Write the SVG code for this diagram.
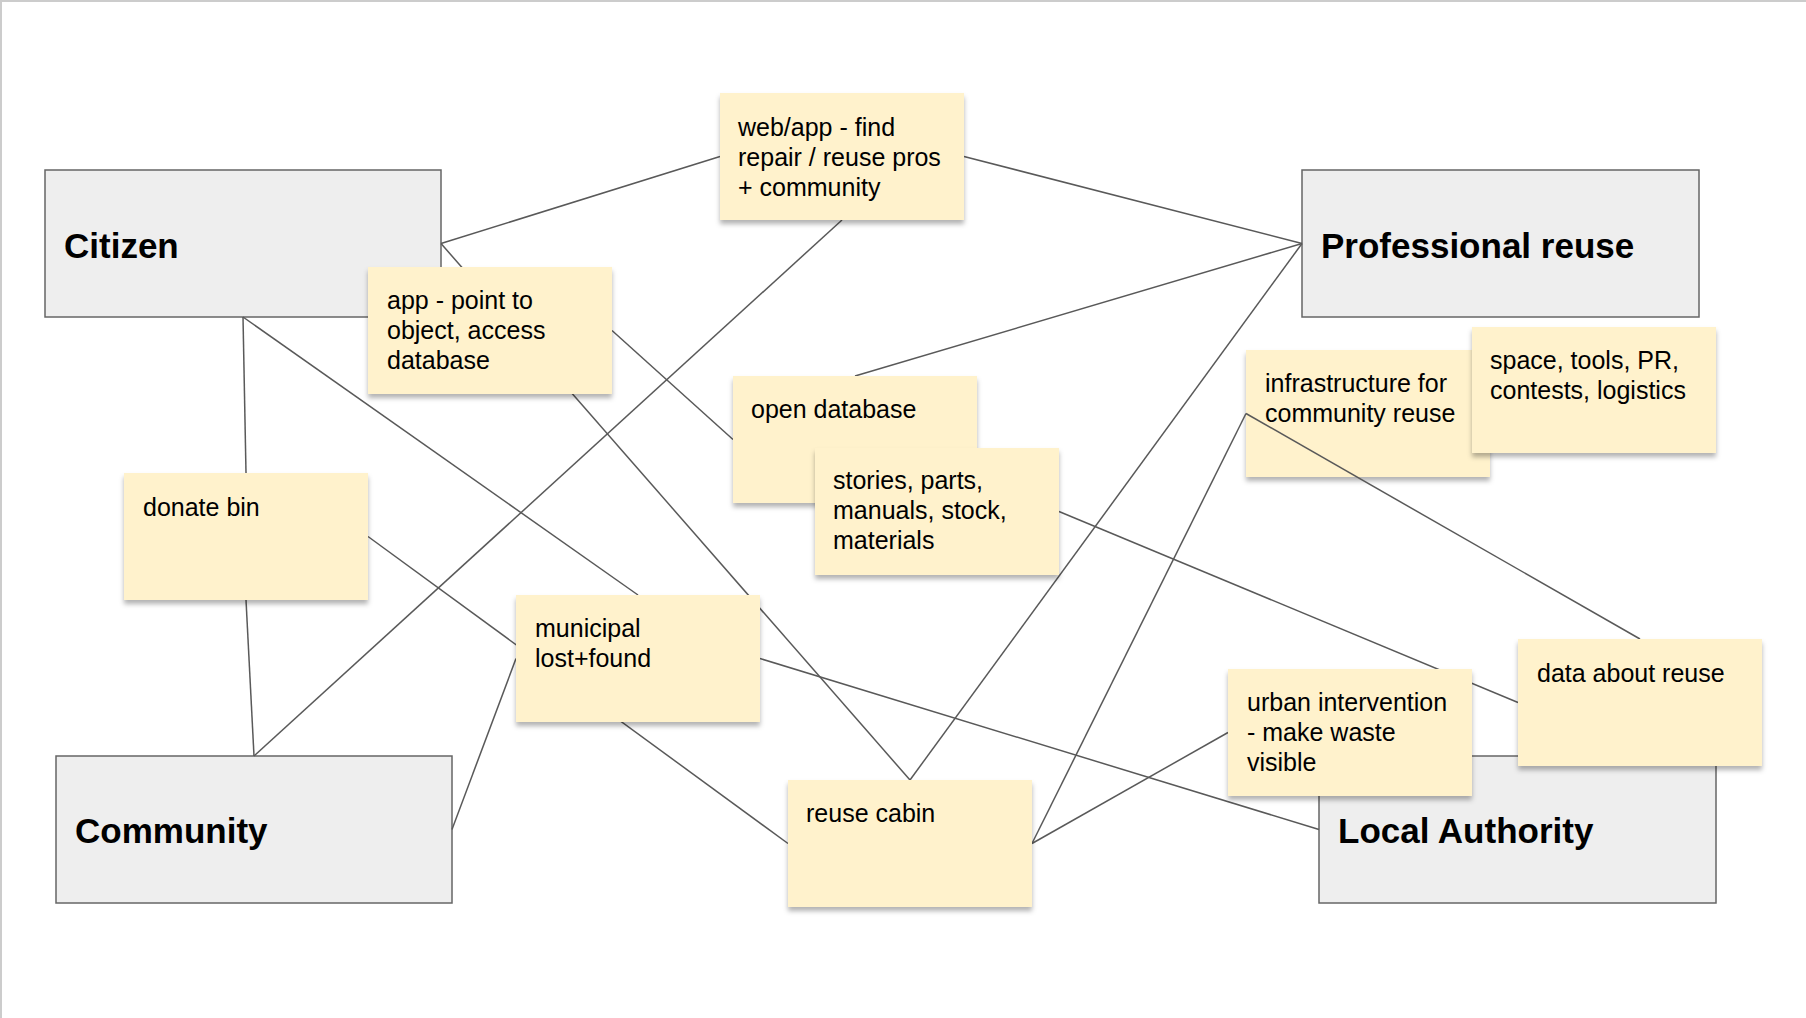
<svg xmlns="http://www.w3.org/2000/svg" width="1806" height="1018" viewBox="0 0 1806 1018">
<defs>
<filter id="shadow" x="-10%" y="-10%" width="125%" height="130%">
<feDropShadow dx="0" dy="4" stdDeviation="2.5" flood-color="#000" flood-opacity="0.3"/>
</filter>
</defs>
<style>
.actor{fill:#eeeeee;stroke:#666666;stroke-width:1.5}
.note{fill:#fff2cc;filter:url(#shadow)}
.title{font-family:"Liberation Sans",Arial,sans-serif;font-weight:bold;font-size:35px;fill:#000}
.txt{font-family:"Liberation Sans",Arial,sans-serif;font-size:25px;fill:#000}
.conn line{stroke:#595959;stroke-width:1.5;fill:none}
</style>
<rect x="0" y="0" width="1806" height="1018" fill="#ffffff"/>
<rect x="0" y="0" width="1806" height="2" fill="#cccccc"/>
<rect x="0" y="0" width="2" height="1018" fill="#cccccc"/>

<g id="citizen"><rect class="actor" x="45" y="170" width="396" height="147"/><text class="title" x="64" y="258">Citizen</text></g>
<g id="professional-reuse"><rect class="actor" x="1302" y="170" width="397" height="147"/><text class="title" x="1321" y="258">Professional reuse</text></g>
<g id="community"><rect class="actor" x="56" y="756" width="396" height="147"/><text class="title" x="75" y="843">Community</text></g>
<g id="local-authority"><rect class="actor" x="1319" y="756" width="397" height="147"/><text class="title" x="1338" y="843">Local Authority</text></g>

<g id="infrastructure"><rect class="note" x="1246" y="350" width="244" height="127"/><text class="txt"><tspan x="1265" y="392">infrastructure for</tspan><tspan x="1265" y="422">community reuse</tspan></text></g>

<g id="connectors" class="conn">
<line x1="441" y1="243.5" x2="720" y2="156.5"/>
<line x1="441" y1="243.5" x2="910" y2="780"/>
<line x1="612" y1="330.5" x2="733" y2="439.5"/>
<line x1="964" y1="156.5" x2="1302" y2="243.5"/>
<line x1="842" y1="220" x2="254" y2="756"/>
<line x1="855" y1="376" x2="1302" y2="243.5"/>
<line x1="1302" y1="243.5" x2="910" y2="780"/>
<line x1="243" y1="317" x2="246" y2="473"/>
<line x1="243" y1="317" x2="638" y2="595"/>
<line x1="246" y1="600" x2="254" y2="756"/>
<line x1="368" y1="536.5" x2="788" y2="843.5"/>
<line x1="516" y1="658.5" x2="452" y2="829.5"/>
<line x1="760" y1="658.5" x2="1319" y2="829.5"/>
<line x1="1032" y1="843.5" x2="1246" y2="413.5"/>
<line x1="1032" y1="843.5" x2="1228" y2="732.5"/>
<line x1="1246" y1="413.5" x2="1640" y2="639"/>
<line x1="1059" y1="511.5" x2="1518" y2="702.5"/>
</g>

<g id="web-app"><rect class="note" x="720" y="93" width="244" height="127"/><text class="txt"><tspan x="738" y="136">web/app - find</tspan><tspan x="738" y="166">repair / reuse pros</tspan><tspan x="738" y="196">+ community</tspan></text></g>
<g id="app-point"><rect class="note" x="368" y="267" width="244" height="127"/><text class="txt"><tspan x="387" y="309">app - point to</tspan><tspan x="387" y="339">object, access</tspan><tspan x="387" y="369">database</tspan></text></g>
<g id="open-database"><rect class="note" x="733" y="376" width="244" height="127"/><text class="txt" x="751" y="418">open database</text></g>
<g id="stories"><rect class="note" x="815" y="448" width="244" height="127"/><text class="txt"><tspan x="833" y="489">stories, parts,</tspan><tspan x="833" y="519">manuals, stock,</tspan><tspan x="833" y="549">materials</tspan></text></g>
<g id="space-tools"><rect class="note" x="1472" y="327" width="244" height="126"/><text class="txt"><tspan x="1490" y="369">space, tools, PR,</tspan><tspan x="1490" y="399">contests, logistics</tspan></text></g>
<g id="donate-bin"><rect class="note" x="124" y="473" width="244" height="127"/><text class="txt" x="143" y="516">donate bin</text></g>
<g id="municipal"><rect class="note" x="516" y="595" width="244" height="127"/><text class="txt"><tspan x="535" y="637">municipal</tspan><tspan x="535" y="667">lost+found</tspan></text></g>
<g id="reuse-cabin"><rect class="note" x="788" y="780" width="244" height="127"/><text class="txt" x="806" y="822">reuse cabin</text></g>
<g id="urban-intervention"><rect class="note" x="1228" y="669" width="244" height="127"/><text class="txt"><tspan x="1247" y="711">urban intervention</tspan><tspan x="1247" y="741">- make waste</tspan><tspan x="1247" y="771">visible</tspan></text></g>
<g id="data-about-reuse"><rect class="note" x="1518" y="639" width="244" height="127"/><text class="txt" x="1537" y="682">data about reuse</text></g>
</svg>
